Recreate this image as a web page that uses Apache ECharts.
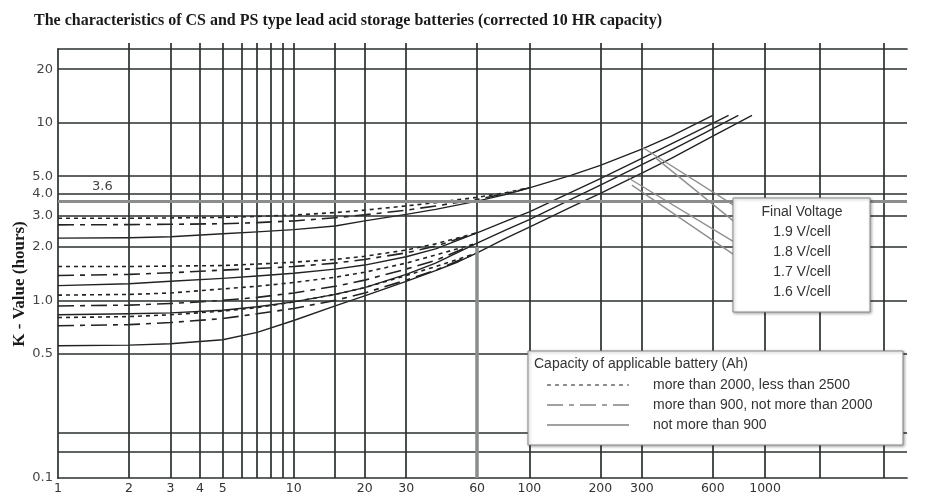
<!DOCTYPE html>
<html><head><meta charset="utf-8">
<script src="https://cdn.jsdelivr.net/npm/echarts@6/dist/echarts.min.js"></script>
<style>html,body{margin:0;padding:0;background:#fff}#c{width:927px;height:498px}</style>
</head><body><div id="c"></div>
<script>
// ---------- text ----------
const titleText = 'The characteristics of CS and PS type lead acid storage batteries (corrected 10 HR capacity)';
const yAxisName = 'K - Value (hours)';
const voltageTitle = 'Final Voltage';
const voltageLabels = ['1.9 V/cell', '1.8 V/cell', '1.7 V/cell', '1.6 V/cell'];
const capacityTitle = 'Capacity of applicable battery (Ah)';
const capacityLabels = ['more than 2000, less than 2500', 'more than 900, not more than 2000', 'not more than 900'];

// ---------- axes ----------
const xTickValues = [1, 2, 3, 4, 5, 10, 20, 30, 60, 100, 200, 300, 600, 1000];
const xGridValues = [2, 3, 4, 5, 6, 7, 8, 9, 10, 15, 20, 30, 60, 100, 200, 300, 600, 1000, 1700, 3200];
const yTickValues = [0.1, 0.5, 1, 2, 3, 4, 5, 10, 20];
const yTickLabels = ['0.1', '0.5', '1.0', '2.0', '3.0', '4.0', '5.0', '10', '20'];
const yGridValues = [0.135, 0.18, 0.5, 1, 2, 3, 4, 5, 10, 20];
const refLineK = 3.6;
const refLineLabel = '3.6';
const thickX = 60;
const thickXRange = [0.1, 2.0];

// ---------- curves (time in minutes, K in hours) ----------
// 1.9 V/cell
const t19d = [1, 2, 3, 5, 7, 10, 15, 20, 30, 40, 60, 80, 100];
const k19d = [2.9, 2.9, 2.91, 2.93, 2.97, 3.02, 3.12, 3.22, 3.4, 3.55, 3.8, 4.05, 4.3];
const t19l = [1, 2, 3, 5, 7, 10, 15, 20, 30, 40, 60, 80, 100];
const k19l = [2.66, 2.67, 2.68, 2.7, 2.74, 2.8, 2.92, 3.03, 3.22, 3.4, 3.7, 4.0, 4.3];
const t19s = [1, 2, 3, 5, 7, 10, 15, 20, 30, 40, 60, 80, 100, 150, 200, 300, 400, 600];
const k19s = [2.24, 2.25, 2.28, 2.37, 2.43, 2.5, 2.62, 2.8, 3.05, 3.25, 3.62, 3.95, 4.3, 5.05, 5.75, 7.1, 8.4, 11.0];
// 1.8 V/cell
const t18d = [1, 2, 3, 5, 7, 10, 15, 20, 30, 40, 60];
const k18d = [1.55, 1.55, 1.56, 1.57, 1.6, 1.64, 1.7, 1.77, 1.92, 2.08, 2.4];
const t18l = [1, 2, 3, 5, 7, 10, 15, 20, 30, 40, 60];
const k18l = [1.38, 1.4, 1.43, 1.48, 1.51, 1.55, 1.62, 1.7, 1.85, 2.02, 2.4];
const t18s = [1, 2, 3, 5, 7, 10, 15, 20, 30, 40, 60, 80, 100, 150, 200, 300, 400, 500, 700];
const k18s = [1.21, 1.24, 1.28, 1.33, 1.37, 1.42, 1.5, 1.58, 1.76, 1.95, 2.4, 2.8, 3.15, 4.05, 4.85, 6.3, 7.6, 8.8, 11.0];
// 1.7 V/cell
const t17d = [1, 2, 3, 5, 7, 10, 15, 20, 30, 40, 60];
const k17d = [1.07, 1.08, 1.1, 1.16, 1.2, 1.26, 1.35, 1.44, 1.62, 1.8, 2.1];
const t17l = [1, 2, 3, 5, 7, 10, 15, 20, 30, 40, 60];
const k17l = [0.93, 0.94, 0.96, 1.0, 1.04, 1.1, 1.2, 1.3, 1.5, 1.68, 2.1];
const t17s = [1, 2, 3, 5, 7, 10, 15, 20, 30, 40, 60, 80, 100, 150, 200, 300, 400, 550, 770];
const k17s = [0.83, 0.84, 0.85, 0.88, 0.92, 0.98, 1.08, 1.18, 1.4, 1.62, 2.1, 2.5, 2.85, 3.7, 4.45, 5.8, 7.0, 8.7, 11.0];
// 1.6 V/cell
const t16d = [1, 2, 3, 5, 7, 10, 15, 20, 30, 40, 60];
const k16d = [0.8, 0.81, 0.83, 0.87, 0.91, 0.98, 1.08, 1.18, 1.38, 1.55, 1.85];
const t16l = [1, 2, 3, 5, 7, 10, 15, 20, 30, 40, 60];
const k16l = [0.72, 0.73, 0.75, 0.79, 0.84, 0.9, 1.0, 1.1, 1.3, 1.48, 1.85];
const t16s = [1, 2, 3, 5, 7, 10, 15, 20, 30, 40, 50, 60, 80, 100, 150, 200, 300, 400, 600, 880];
const k16s = [0.555, 0.56, 0.57, 0.6, 0.66, 0.77, 0.93, 1.06, 1.28, 1.47, 1.65, 1.85, 2.25, 2.58, 3.35, 4.0, 5.2, 6.3, 8.4, 11.0];

// pointer lines from curves to the Final Voltage box: [tStart, kStart, tEnd, kEnd]
const pointerLines = [
  [300, 7.3, 800, 3.2],
  [340, 6.4, 800, 2.55],
  [262, 4.9, 800, 2.0],
  [272, 4.45, 800, 1.68]
];

// ---------- build ----------
const SHORT = [4, 4];
const LONG = [16, 6, 5, 6];
const curveDefs = [
  ['1.9 short', t19d, k19d, SHORT], ['1.9 long', t19l, k19l, LONG], ['1.9 solid', t19s, k19s, 'solid'],
  ['1.8 short', t18d, k18d, SHORT], ['1.8 long', t18l, k18l, LONG], ['1.8 solid', t18s, k18s, 'solid'],
  ['1.7 short', t17d, k17d, SHORT], ['1.7 long', t17l, k17l, LONG], ['1.7 solid', t17s, k17s, 'solid'],
  ['1.6 short', t16d, k16d, SHORT], ['1.6 long', t16l, k16l, LONG], ['1.6 solid', t16s, k16s, 'solid']
];
const INK = '#222';
const GRID = '#2b302d';

const curveSeries = curveDefs.map(([name, t, k, type]) => ({
  name, type: 'line', showSymbol: false, symbol: 'none', smooth: false,
  z: 4, silent: true,
  lineStyle: { color: INK, width: type === 'solid' ? 1.4 : 1.6, type, join: 'round' },
  data: t.map((v, i) => [v, k[i]])
}));

const gridSeries = {
  name: 'grid', type: 'line', data: [], silent: true, z: 1,
  markLine: {
    silent: true, symbol: 'none', animation: false,
    label: { show: false },
    lineStyle: { color: GRID, width: 1.7, type: 'solid' },
    data: [
      ...xGridValues.map(v => ({ xAxis: v })),
      ...yGridValues.map(v => ({ yAxis: v })),
      { yAxis: refLineK, lineStyle: { color: '#8a8d8b', width: 3 } },
      [{ coord: [thickX, thickXRange[0]], lineStyle: { color: '#8a8d8b', width: 3.5 } }, { coord: [thickX, thickXRange[1]] }]
    ]
  }
};

const pointerSeries = {
  name: 'pointers', type: 'line', data: [], silent: true, z: 3,
  markLine: {
    silent: true, symbol: 'none', animation: false,
    label: { show: false },
    lineStyle: { color: '#8f8f8f', width: 1.4, type: 'solid' },
    data: pointerLines.map(p => [{ coord: [p[0], p[1]] }, { coord: [p[2], p[3]] }])
  }
};

const SANS = '"DejaVu Sans", Verdana, sans-serif';
const ARIAL = '"Liberation Sans", Arial, sans-serif';
const SERIF = '"Liberation Serif", "Times New Roman", serif';

const graphics = [
  { type: 'text', left: 34, top: 13, z: 100,
    style: { text: titleText, font: 'bold 16px ' + SERIF, fill: '#1a1a1a' } },
  { type: 'text', x: 20, y: 284, rotation: Math.PI / 2, z: 100,
    style: { text: yAxisName, font: 'bold 17px ' + SERIF, fill: '#1a1a1a', align: 'center', verticalAlign: 'middle' } },
  { type: 'text', x: 92, y: 187, z: 100,
    style: { text: refLineLabel, font: '13px ' + SANS, fill: '#444', verticalAlign: 'middle' } },
  // Final voltage box
  { type: 'rect', shape: { x: 733, y: 198, width: 137, height: 114 }, z: 100,
    style: { fill: '#fff', stroke: '#8a8a8a', lineWidth: 1, shadowBlur: 3, shadowColor: 'rgba(0,0,0,0.35)', shadowOffsetX: 1, shadowOffsetY: 1 } },
  { type: 'text', x: 802, y: 212, z: 101,
    style: { text: voltageTitle, font: '14px ' + ARIAL, fill: '#333', align: 'center', verticalAlign: 'middle' } },
  ...voltageLabels.map((s, i) => ({ type: 'text', x: 802, y: 232 + i * 20, z: 101,
    style: { text: s, font: '14px ' + ARIAL, fill: '#333', align: 'center', verticalAlign: 'middle' } })),
  // Capacity box
  { type: 'rect', shape: { x: 528, y: 351, width: 375, height: 94 }, z: 100,
    style: { fill: '#fff', stroke: '#8a8a8a', lineWidth: 1, shadowBlur: 3, shadowColor: 'rgba(0,0,0,0.35)', shadowOffsetX: 1, shadowOffsetY: 1 } },
  { type: 'text', x: 534, y: 364, z: 101,
    style: { text: capacityTitle, font: '14px ' + ARIAL, fill: '#333', verticalAlign: 'middle' } },
  ...capacityLabels.map((s, i) => ({ type: 'text', x: 653, y: 385 + i * 20, z: 101,
    style: { text: s, font: '14px ' + ARIAL, fill: '#333', verticalAlign: 'middle' } })),
  ...[SHORT, LONG, null].map((d, i) => ({ type: 'line', z: 101,
    shape: { x1: 547, y1: 385 + i * 20, x2: 629, y2: 385 + i * 20 },
    style: { stroke: '#444', lineWidth: 1.2, lineDash: d || null } }))
];

const chart = echarts.init(document.getElementById('c'), null, { renderer: 'canvas' });
chart.setOption({
  animation: false,
  backgroundColor: '#fff',
  grid: { left: 58, right: 20, top: 49, bottom: 20, containLabel: false },
  xAxis: [
    { type: 'log', logBase: 10, min: 1, max: 4000, position: 'bottom',
      axisLine: { show: true, lineStyle: { color: GRID, width: 1.7 } },
      axisTick: { show: false },
      splitLine: { show: false }, minorSplitLine: { show: false },
      axisLabel: { show: true, customValues: xTickValues, margin: 4, color: '#333', fontFamily: SANS, fontSize: 12.5,
        formatter: v => String(Math.round(v)) } },
    { type: 'log', logBase: 10, min: 1, max: 4000, position: 'top',
      axisLine: { show: true, lineStyle: { color: GRID, width: 1.7 } },
      axisTick: { show: true, customValues: xGridValues, inside: false, length: 6, lineStyle: { color: GRID, width: 1.7 } },
      axisLabel: { show: false }, splitLine: { show: false } }
  ],
  yAxis: {
    type: 'log', logBase: 10, min: 0.1, max: 26,
    axisLine: { show: true, lineStyle: { color: GRID, width: 1.7 } },
    axisTick: { show: false },
    splitLine: { show: false }, minorSplitLine: { show: false },
    axisLabel: { show: true, customValues: yTickValues, margin: 5, color: '#444', fontFamily: SANS, fontSize: 13,
      formatter: v => {
        let best = 0, bd = Infinity;
        yTickValues.forEach((t, i) => { const d = Math.abs(Math.log(t) - Math.log(v)); if (d < bd) { bd = d; best = i; } });
        return yTickLabels[best];
      } }
  },
  graphic: graphics,
  series: [gridSeries, pointerSeries, ...curveSeries]
});
</script>
</body></html>
